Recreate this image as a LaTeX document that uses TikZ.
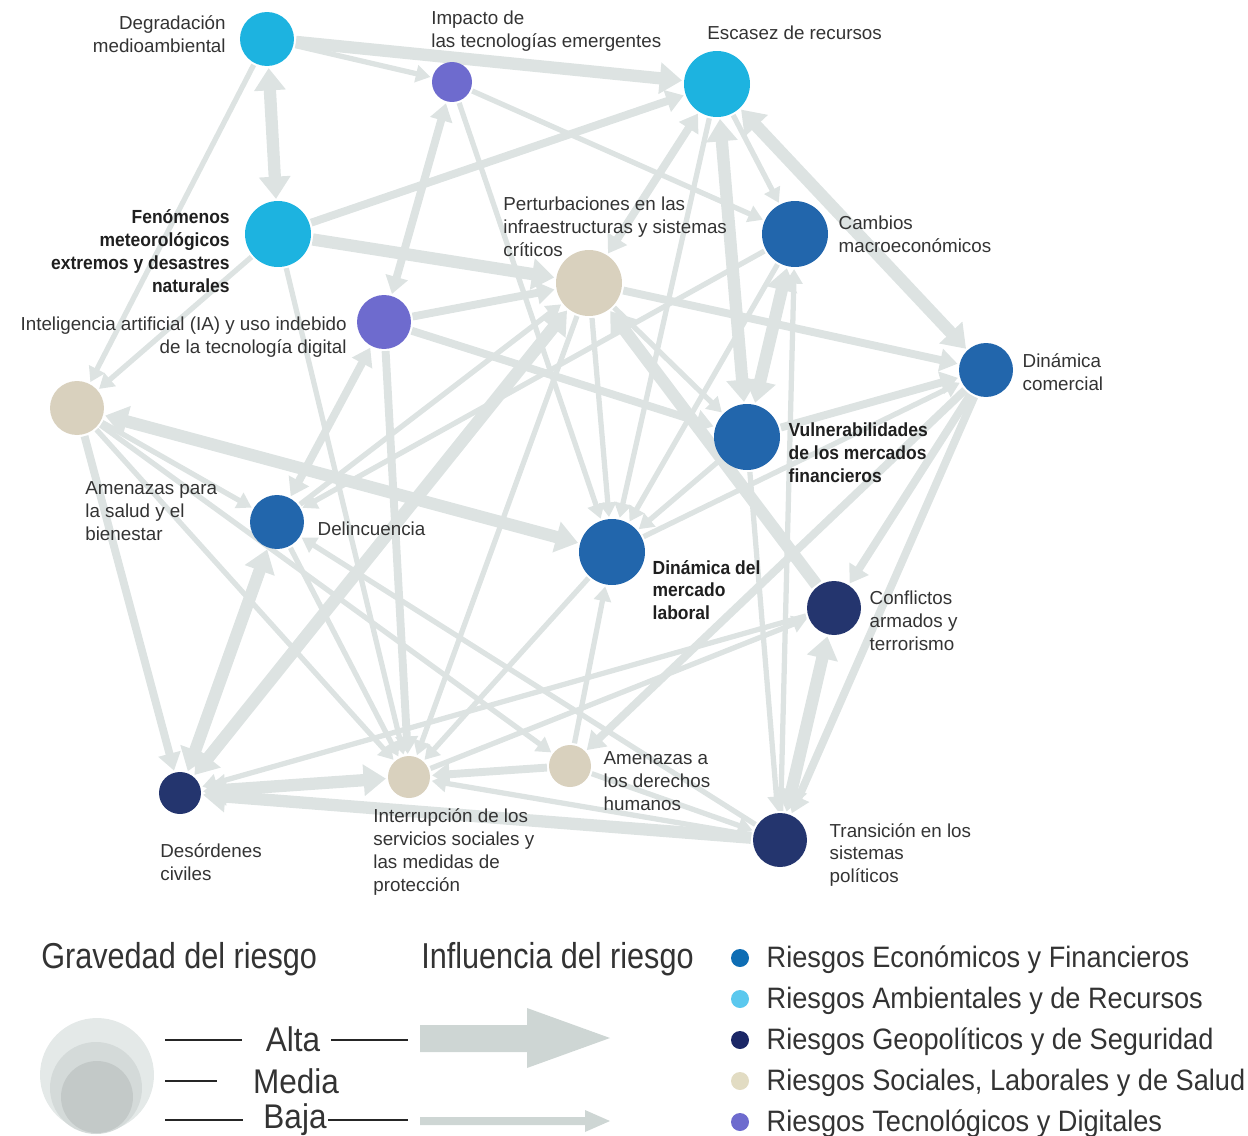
\documentclass[tikz,border=0pt]{standalone}
\usepackage{fontspec}
\setmainfont{Liberation Sans}
\newfontfamily\condfont[FakeStretch=0.85]{Liberation Sans}
\newfontfamily\legfont[FakeStretch=0.92]{Liberation Sans}
\usetikzlibrary{arrows.meta,positioning,backgrounds}

\definecolor{ambcol}{HTML}{1DB3E0}
\definecolor{teccol}{HTML}{6E6BCE}
\definecolor{soccol}{HTML}{D9D1BE}
\definecolor{ecocol}{HTML}{2266AC}
\definecolor{geocol}{HTML}{24356E}
\definecolor{edgecol}{HTML}{DDE3E2}
\definecolor{txtcol}{HTML}{333333}
\definecolor{legeco}{HTML}{0E6DB4}
\definecolor{legamb}{HTML}{5BC8EE}
\definecolor{leggeo}{HTML}{1B2766}
\definecolor{legsoc}{HTML}{E2DCC3}
\definecolor{legarr}{HTML}{CED6D4}
\definecolor{sevA}{HTML}{E4E9E8}
\definecolor{sevB}{HTML}{D4DAD9}
\definecolor{sevC}{HTML}{C3C9C8}

\tikzset{
    %standard arrow tip
    >={Triangle[length=5pt 1.1,width=4pt 1.9]},
    risk/.style={
      circle,
      inner sep=0pt,
      draw=none},
    amb/.style={risk, fill=ambcol},
    tec/.style={risk, fill=teccol},
    soc/.style={risk, fill=soccol},
    eco/.style={risk, fill=ecocol},
    geo/.style={risk, fill=geocol},
    lbl/.style={
      inner sep=0pt,
      align=left,
      text=txtcol,
      font=\fontsize{10.7}{13}\selectfont},
    lblb/.style={lbl, text=black!88,
      font=\legfont\fontsize{10.8}{13}\selectfont\bfseries},
    infl/.style={draw=edgecol, shorten >=1pt, shorten <=1pt},
    weakinf/.style={infl, line width=3pt},
    medinf/.style={infl, line width=4.5pt},
    strinf/.style={infl, line width=7pt},
    dot/.style={circle, inner sep=0pt, minimum size=0.36cm},
    legtxt/.style={inner sep=0pt, text=txtcol,
      font=\legfont\fontsize{16.8}{20}\selectfont},
    scl/.style={inner sep=0pt, text=txtcol,
      font=\legfont\fontsize{19.5}{22}\selectfont},
    ttl/.style={inner sep=0pt, text=txtcol, anchor=base west,
      font=\condfont\fontsize{20.5}{24}\selectfont},
    legline/.style={draw=black!85, line width=0.6pt},
}

\begin{document}
\begin{tikzpicture}[x=0.02cm, y=-0.02cm]
    \useasboundingbox (0,0) rectangle (1248,1136);

    % risks
    \node (deg) [amb, minimum size=1.08cm] at (267,39) {};
    \node (imp) [tec, minimum size=0.80cm] at (452,82) {};
    \node (esc) [amb, minimum size=1.32cm] at (717,84) {};
    \node (fen) [amb, minimum size=1.32cm] at (278,234) {};
    \node (ia)  [tec, minimum size=1.08cm] at (384,322) {};
    \node (per) [soc, minimum size=1.32cm] at (589,283) {};
    \node (cam) [eco, minimum size=1.32cm] at (795,234) {};
    \node (din) [eco, minimum size=1.08cm] at (986,370) {};
    \node (vul) [eco, minimum size=1.32cm] at (747,437) {};
    \node (sal) [soc, minimum size=1.08cm] at (77,408) {};
    \node (del) [eco, minimum size=1.08cm] at (277,522) {};
    \node (lab) [eco, minimum size=1.32cm] at (612,552) {};
    \node (con) [geo, minimum size=1.08cm] at (834,608) {};
    \node (des) [geo, minimum size=0.84cm] at (180,793) {};
    \node (int) [soc, minimum size=0.84cm] at (409,777) {};
    \node (der) [soc, minimum size=0.84cm] at (570,766) {};
    \node (tra) [geo, minimum size=1.08cm] at (780,840) {};

    % labels
    \node (degL) [lbl, anchor=east, align=right] at (226,34) {Degradación\\medioambiental};
    \node (impL) [lbl, anchor=west] at (431,31) {Impacto de\\las tecnologías emergentes};
    \node (escL) [lbl, anchor=west] at (707,33) {Escasez de recursos};
    \node (fenL) [lblb, anchor=east, align=right] at (230,251) {Fenómenos\\meteorológicos\\extremos y desastres\\naturales};
    \node (iaL) [lbl, anchor=east, align=right] at (347,337) {Inteligencia artificial (IA) y uso indebido\\de la tecnología digital};
    \node (perL) [lbl, anchor=west] at (503,227) {Perturbaciones en las\\infraestructuras y sistemas\\críticos};
    \node (camL) [lbl, right=0.2cm of cam] {Cambios\\macroeconómicos};
    \node (dinL) [lbl, right=0.18cm of din, yshift=-0.05cm] {Dinámica\\comercial};
    \node (vulL) [lblb, right=0.16cm of vul, yshift=-0.32cm] {Vulnerabilidades\\de los mercados\\financieros};
    \node (salL) [lbl, anchor=west] at (85,511) {Amenazas para\\la salud y el\\bienestar};
    \node (delL) [lbl, right=0.26cm of del, yshift=-0.14cm] {Delincuencia};
    \node (labL) [lblb, right=0.14cm of lab, yshift=-0.76cm] {Dinámica del\\mercado\\laboral};
    \node (conL) [lbl, right=0.16cm of con, yshift=-0.26cm] {Conflictos\\armados y\\terrorismo};
    \node (derL) [lbl, right=0.24cm of der, yshift=-0.3cm] {Amenazas a\\los derechos\\humanos};
    \node (desL) [lbl, anchor=west] at (160,862) {Desórdenes\\civiles};
    \node (intL) [lbl, anchor=west] at (373,852) {Interrupción de los\\servicios sociales y\\las medidas de\\protección};
    \node (traL) [lbl, right=0.44cm of tra, yshift=-0.3cm] {Transición en los\\sistemas\\políticos};

    % influences
    \begin{scope}[on background layer]
    \draw[strinf, <->] (deg) -- (fen);
    \draw[strinf, ->] (deg) -- (esc);
    \draw[weakinf, ->] (deg) -- (imp);
    \draw[weakinf, ->] (deg) -- (sal);
    \draw[medinf, ->] (fen) -- (esc);
    \draw[strinf, ->] (fen) -- (per);
    \draw[weakinf, ->] (fen) -- (sal);
    \draw[weakinf, ->] (fen) -- (int);
    \draw[medinf, <->] (imp) -- (ia);
    \draw[weakinf, ->] (imp) -- (cam);
    \draw[weakinf, ->] (imp) -- (lab);
    \draw[medinf, <->] (esc) -- (per);
    \draw[weakinf, ->] (esc) -- (lab);
    \draw[strinf, <->] (esc) -- (vul);
    \draw[weakinf, ->] (esc) -- (cam);
    \draw[strinf, <->] (esc) -- (din);
    \draw[medinf, ->] (ia) -- (per);
    \draw[medinf, ->] (ia) -- (vul);
    \draw[medinf, ->] (ia) -- (int);
    \draw[medinf, <->] (del) -- (ia);
    \draw[medinf, ->] (per) -- (din);
    \draw[weakinf, ->] (per) -- (vul);
    \draw[strinf, ->] (con) -- (per);
    \draw[strinf, <->] (vul) -- (cam);
    \draw[medinf, ->] (vul) -- (din);
    \draw[weakinf, ->] (per) -- (lab);
    \draw[weakinf, ->] (cam) -- (lab);
    \draw[weakinf, ->] (vul) -- (lab);
    \draw[weakinf, ->] (lab) -- (din);
    \draw[strinf, <->] (sal) -- (lab);
    \draw[medinf, ->] (sal) -- (des);
    \draw[weakinf, ->] (sal) -- (del);
    \draw[weakinf, ->] (sal) -- (int);
    \draw[weakinf, ->] (sal) -- (der);
    \draw[strinf, <->] (des) -- (per);
    \draw[strinf, <->] (des) -- (del);
    \draw[strinf, <->] (des) -- (int);
    \draw[strinf, ->] (tra) -- (des);
    \draw[weakinf, ->] (tra) -- (int);
    \draw[medinf, ->] (der) -- (int);
    \draw[weakinf, ->] (tra) -- (del);
    \draw[weakinf, ->] (vul) -- (tra);
    \draw[weakinf, ->] (tra) -- (cam);
    \draw[strinf, <->] (con) -- (tra);
    \draw[medinf, ->] (din) -- (tra);
    \draw[medinf, ->] (din) -- (con);
    \draw[medinf, ->] (din) -- (der);
    \draw[weakinf, ->] (der) -- (lab);
    \draw[weakinf, ->] (der) -- (tra);
    \draw[weakinf, ->] (int) -- (con);
    \draw[weakinf, ->] (con) -- (des);
    \draw[weakinf, ->] (per) -- (int);
    \draw[weakinf, ->] (del) -- (int);
    \draw[weakinf, ->] (lab) -- (int);
    \draw[weakinf, ->] (cam) -- (del);
    \draw[weakinf, ->] (del) -- (per);
    \end{scope}

    % legend: severity
    \node (gravT) [ttl] at (41,968) {Gravedad del riesgo};
    \node (inflT) [ttl] at (421,968) {Influencia del riesgo};
    \fill[sevA] (97,1075) circle[radius=1.14cm];
    \fill[sevB] (96,1088) circle[radius=0.92cm];
    \fill[sevC] (97,1097) circle[radius=0.72cm];
    \node (alta) [scl] at (293,1039) {Alta};
    \node (media) [scl] at (296,1081) {Media};
    \node (baja) [scl] at (295,1120) {Baja};
    \coordinate (a1) at (165,1040);
    \coordinate (a2) at (242,1040);
    \coordinate (a3) at (331,1040);
    \coordinate (a4) at (408,1040);
    \coordinate (m1) at (165,1081);
    \coordinate (m2) at (217,1081);
    \coordinate (b1) at (165,1120);
    \coordinate (b2) at (243,1120);
    \coordinate (b3) at (328,1120);
    \coordinate (b4) at (408,1120);
    \draw[legline] (a1) -- (a2);
    \draw[legline] (a3) -- (a4);
    \draw[legline] (m1) -- (m2);
    \draw[legline] (b1) -- (b2);
    \draw[legline] (b3) -- (b4);

    % legend: influence
    \fill[legarr] (420,1025) -- (527,1025) -- (527,1008) -- (610,1038)
                  -- (527,1068) -- (527,1052) -- (420,1052) -- cycle;
    \fill[legarr] (420,1117) -- (585,1117) -- (585,1110) -- (610,1121)
                  -- (585,1132) -- (585,1125) -- (420,1125) -- cycle;

    % legend: categories
    \node (k1) [dot, fill=legeco] at (740,958) {};
    \node (k2) [dot, fill=legamb] at (740,999) {};
    \node (k3) [dot, fill=leggeo] at (740,1040) {};
    \node (k4) [dot, fill=legsoc] at (740,1081) {};
    \node (k5) [dot, fill=teccol] at (740,1122) {};
    \node (k1L) [legtxt, right=0.34cm of k1, yshift=-1pt] {Riesgos Económicos y Financieros};
    \node (k2L) [legtxt, right=0.34cm of k2, yshift=-1pt] {Riesgos Ambientales y de Recursos};
    \node (k3L) [legtxt, right=0.34cm of k3, yshift=-1pt] {Riesgos Geopolíticos y de Seguridad};
    \node (k4L) [legtxt, right=0.34cm of k4, yshift=-1pt] {Riesgos Sociales, Laborales y de Salud};
    \node (k5L) [legtxt, right=0.34cm of k5, yshift=-1pt] {Riesgos Tecnológicos y Digitales};
\end{tikzpicture}
\end{document}
